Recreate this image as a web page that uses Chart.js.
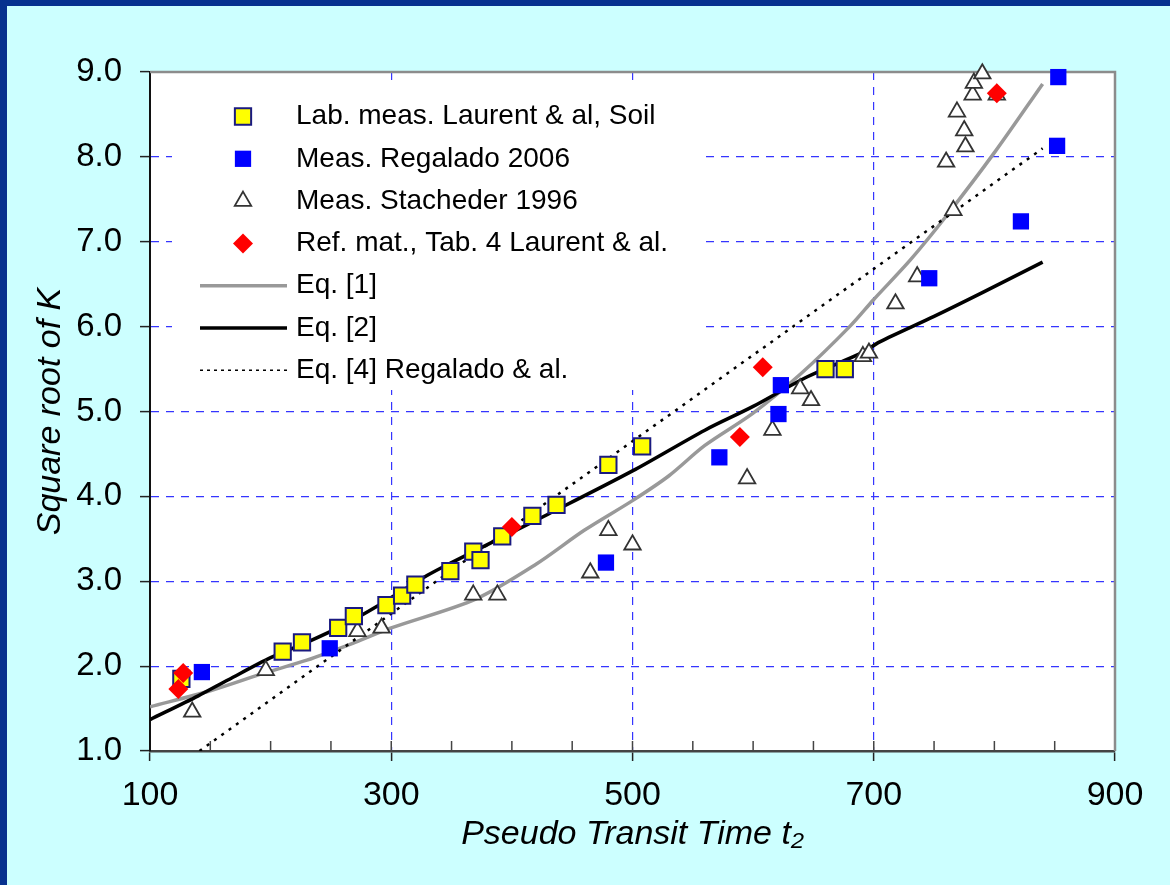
<!DOCTYPE html>
<html>
<head>
<meta charset="utf-8">
<script src="https://cdn.jsdelivr.net/npm/chart.js@4.4.0/dist/chart.umd.min.js"></script>
<style>
  html, body { margin: 0; padding: 0; }
  #wrap { width: 1170px; height: 885px; background: #ccffff; box-shadow: inset 7px 6px 0 0 #06318f; position: relative; }
  canvas { position: absolute; left: 0; top: 0; }
</style>
</head>
<body>
<div id="wrap"><canvas id="chart" width="1170" height="885"></canvas></div>
<script>
// Lab. meas. Laurent & al, Soil
const labX = [126, 210, 226, 256, 269, 296, 309, 320, 349, 368, 374, 392, 417, 437, 480, 508, 660, 676];
const labY = [1.85, 2.17, 2.28, 2.45, 2.59, 2.72, 2.83, 2.96, 3.12, 3.35, 3.25, 3.53, 3.77, 3.90, 4.37, 4.59, 5.50, 5.50];
// Meas. Regalado 2006
const regX = [143, 249, 478, 572, 621, 623, 746, 822, 852, 853];
const regY = [1.93, 2.21, 3.22, 4.46, 4.97, 5.31, 6.57, 7.24, 8.13, 8.94];
// Meas. Stacheder 1996
const staX = [135, 196, 272, 292, 368, 388, 465, 480, 500, 595, 616, 639, 648, 691, 696, 718, 736, 760, 766, 769, 775, 776, 782, 783, 790, 802];
const staY = [1.46, 1.95, 2.41, 2.45, 2.84, 2.84, 3.10, 3.60, 3.43, 4.21, 4.78, 5.27, 5.13, 5.65, 5.69, 6.27, 6.59, 7.94, 7.37, 8.53, 8.31, 8.12, 8.73, 8.87, 8.98, 8.73];
// Ref. mat., Tab. 4 Laurent & al.
const refX = [123.5, 127.5, 400, 589, 608, 802];
const refY = [1.73, 1.92, 3.64, 4.70, 5.52, 8.75];
// Eq. [1]
const eq1X = [100, 150, 195, 230, 270, 300, 370, 420, 460, 500, 530, 560, 600, 640, 680, 700, 730, 760, 800, 840];
const eq1Y = [1.52, 1.71, 1.92, 2.07, 2.28, 2.45, 2.79, 3.20, 3.60, 3.95, 4.24, 4.60, 4.98, 5.45, 6.00, 6.32, 6.78, 7.30, 8.05, 8.86];
// Eq. [2]
const eq2X = [100, 140, 165, 200, 230, 260, 290, 330, 350, 430, 500, 560, 600, 645, 690, 705, 750, 790, 840];
const eq2Y = [1.37, 1.65, 1.84, 2.10, 2.28, 2.48, 2.72, 3.07, 3.22, 3.79, 4.30, 4.78, 5.06, 5.41, 5.69, 5.82, 6.12, 6.40, 6.76];
// Eq. [4] Regalado & al.
const eq4X = [141, 300, 500, 700, 840];
const eq4Y = [1.0, 2.62, 4.65, 6.68, 8.10];

const legendLabels = [
    'Lab. meas. Laurent & al, Soil',
    'Meas. Regalado 2006',
    'Meas. Stacheder 1996',
    'Ref. mat., Tab. 4 Laurent & al.',
    'Eq. [1]',
    'Eq. [2]',
    'Eq. [4] Regalado & al.'
];
const xTickLabels = [100, 300, 500, 700, 900];
const yTickLabels = ['1.0', '2.0', '3.0', '4.0', '5.0', '6.0', '7.0', '8.0', '9.0'];

const FONT = "'Liberation Sans', Arial, sans-serif";
const GRID_BLUE = '#3535ff';

function pts(xs, ys) {
    return xs.map(function (x, i) { return { x: x, y: ys[i] }; });
}

// white plot area, legend box, frame and inner minor ticks
const plotDecor = {
    id: 'plotDecor',
    beforeDraw: function (chart) {
        const a = chart.chartArea, ctx = chart.ctx;
        ctx.save();
        ctx.fillStyle = '#ffffff';
        ctx.fillRect(a.left, a.top, a.right - a.left, a.bottom - a.top);
        ctx.restore();
    },
    beforeDatasetsDraw: function (chart) {
        const a = chart.chartArea, ctx = chart.ctx;
        const xs = chart.scales.x;
        ctx.save();
        // frame top / right
        ctx.strokeStyle = '#8c8c8c';
        ctx.lineWidth = 2.5;
        ctx.beginPath();
        ctx.moveTo(a.left, a.top);
        ctx.lineTo(a.right, a.top);
        ctx.lineTo(a.right, a.bottom);
        ctx.stroke();
        // minor ticks inside bottom axis
        ctx.strokeStyle = '#444';
        ctx.lineWidth = 1.5;
        xs.ticks.forEach(function (t) {
            if (t.value <= 100 || t.value >= 900) return;
            const px = xs.getPixelForValue(t.value);
            ctx.beginPath();
            ctx.moveTo(px, a.bottom);
            ctx.lineTo(px, a.bottom - 10);
            ctx.stroke();
        });
        // legend
        ctx.fillStyle = '#ffffff';
        ctx.fillRect(a.left + 22, a.top + 14, 528, 304);
        ctx.font = '28px ' + FONT;
        ctx.textBaseline = 'middle';
        ctx.textAlign = 'left';
        chart.data.datasets.forEach(function (ds, i) {
            const y = a.top + 44.5 + i * 42.3;
            if (ds.showLine) {
                ctx.save();
                ctx.strokeStyle = ds.borderColor;
                ctx.lineWidth = ds.borderDash ? 1.5 : ds.borderWidth;
                ctx.setLineDash(ds.borderDash ? [3, 4] : []);
                ctx.beginPath();
                ctx.moveTo(a.left + 50, y);
                ctx.lineTo(a.left + 137, y);
                ctx.stroke();
                ctx.restore();
            } else {
                ctx.save();
                ctx.fillStyle = ds.backgroundColor;
                ctx.strokeStyle = ds.borderColor;
                ctx.lineWidth = ds.borderWidth;
                Chart.helpers.drawPoint(ctx, {
                    pointStyle: ds.pointStyle,
                    radius: ds.pointRadius,
                    rotation: 0,
                    borderWidth: ds.borderWidth
                }, a.left + 93, y);
                ctx.restore();
            }
            ctx.fillStyle = '#000';
            ctx.fillText(legendLabels[i], a.left + 146, y);
        });
        ctx.restore();
    }
};

const ctx = document.getElementById('chart').getContext('2d');
const chart = new Chart(ctx, {
    type: 'scatter',
    data: {
        datasets: [
            {
                label: legendLabels[0], data: pts(labX, labY), order: 1,
                pointStyle: 'rect', pointRadius: 11.5, pointHoverRadius: 11.5,
                backgroundColor: '#ffff00', borderColor: '#1a1a80', borderWidth: 2, clip: false
            },
            {
                label: legendLabels[1], data: pts(regX, regY), order: 2,
                pointStyle: 'rect', pointRadius: 11.5, pointHoverRadius: 11.5,
                backgroundColor: '#0000ff', borderColor: '#0000ff', borderWidth: 0, clip: false
            },
            {
                label: legendLabels[2], data: pts(staX, staY), order: 3,
                pointStyle: 'triangle', pointRadius: 9.5, pointHoverRadius: 9.5,
                backgroundColor: '#ffffff', borderColor: '#333333', borderWidth: 1.8, clip: false
            },
            {
                label: legendLabels[3], data: pts(refX, refY), order: 0,
                pointStyle: 'rectRot', pointRadius: 10, pointHoverRadius: 10,
                backgroundColor: '#ff0000', borderColor: '#ff0000', borderWidth: 0, clip: false
            },
            {
                label: legendLabels[4], data: pts(eq1X, eq1Y), order: 6,
                showLine: true, pointRadius: 0, borderColor: '#999999', borderWidth: 3.5,
                backgroundColor: '#999999', tension: 0.3
            },
            {
                label: legendLabels[5], data: pts(eq2X, eq2Y), order: 5,
                showLine: true, pointRadius: 0, borderColor: '#000000', borderWidth: 3.5,
                backgroundColor: '#000000', tension: 0.3
            },
            {
                label: legendLabels[6], data: pts(eq4X, eq4Y), order: 4,
                showLine: true, pointRadius: 0, borderColor: '#000000', borderWidth: 2.5,
                borderDash: [3, 6], backgroundColor: '#000000'
            }
        ]
    },
    options: {
        responsive: false,
        animation: false,
        events: [],
        layout: { padding: { left: 0, top: 72, right: 55, bottom: 0 } },
        plugins: {
            legend: { display: false },
            tooltip: { enabled: false }
        },
        scales: {
            x: {
                type: 'linear',
                min: 100,
                max: 900,
                afterFit: function (s) { s.height = 134; },
                ticks: {
                    stepSize: 50,
                    autoSkip: false,
                    maxRotation: 0,
                    padding: 14,
                    color: '#000',
                    font: { family: FONT, size: 34 },
                    callback: function (v) {
                        return xTickLabels.indexOf(v) >= 0 ? String(v) : '';
                    }
                },
                grid: {
                    color: function (c) {
                        const v = c.tick && c.tick.value;
                        return (v === 300 || v === 500 || v === 700) ? GRID_BLUE : 'rgba(0,0,0,0)';
                    },
                    tickColor: function (c) {
                        const v = c.tick && c.tick.value;
                        return xTickLabels.indexOf(v) >= 0 ? '#222' : 'rgba(0,0,0,0)';
                    },
                    tickLength: 10,
                    lineWidth: 1.2,
                    tickWidth: 1.5
                },
                border: { display: true, color: '#444', width: 2.5, dash: [8, 7] },
                title: {
                    display: true,
                    text: 'Pseudo Transit Time t\u2082',
                    color: '#000',
                    font: { family: FONT, size: 34, style: 'italic' },
                    padding: { top: 0, bottom: 30 }
                }
            },
            y: {
                type: 'linear',
                min: 1,
                max: 9,
                afterFit: function (s) { s.width = 150; },
                ticks: {
                    stepSize: 1,
                    padding: 18,
                    color: '#000',
                    font: { family: FONT, size: 33 },
                    callback: function (v) { return yTickLabels[Math.round(v) - 1]; }
                },
                grid: {
                    color: function (c) {
                        const v = c.tick && c.tick.value;
                        return (v > 1 && v < 9) ? GRID_BLUE : 'rgba(0,0,0,0)';
                    },
                    tickColor: '#222',
                    tickLength: 10,
                    lineWidth: 1.2,
                    tickWidth: 1.5
                },
                border: { display: true, color: '#111', width: 2, dash: [8, 7] },
                title: {
                    display: true,
                    text: 'Square root of K',
                    color: '#000',
                    font: { family: FONT, size: 34, style: 'italic' },
                    padding: { top: 30, bottom: 0 }
                }
            }
        }
    },
    plugins: [plotDecor]
});
</script>
</body>
</html>
